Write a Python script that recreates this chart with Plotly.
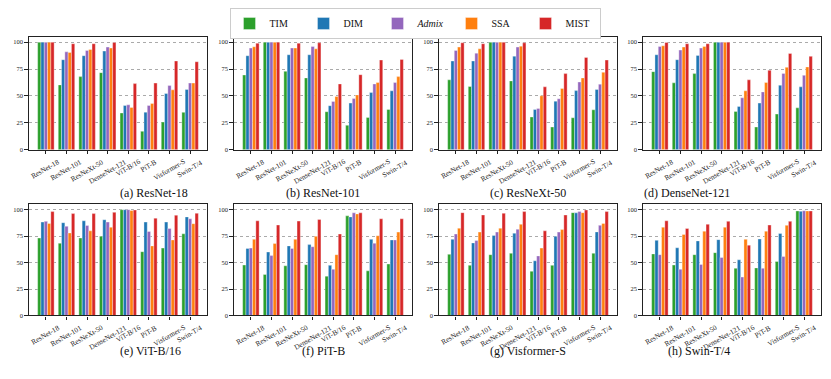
import plotly.graph_objects as go

# target models on the x axis of every panel
models = ["ResNet-18", "ResNet-101", "ResNeXt-50", "DenseNet-121",
          "ViT-B/16", "PiT-B", "Visformer-S", "Swin-T/4"]
methods = ["TIM", "DIM", "<i>Admix</i>", "SSA", "MIST"]
colors = ["#2ca02c", "#1f77b4", "#9467bd", "#ff7f0e", "#d62728"]

# attack success rate (%), rows: TIM, DIM, Admix, SSA, MIST
resnet18 = [
    [100, 60.3, 68.0, 71.7, 34.2, 17.2, 25.8, 34.8],
    [100, 83.7, 87.4, 91.7, 41.2, 35.0, 52.3, 56.0],
    [100, 91.0, 92.3, 95.4, 41.8, 41.2, 59.7, 62.0],
    [100, 90.5, 93.2, 94.5, 39.4, 43.0, 55.7, 62.0],
    [100, 98.5, 98.5, 99.7, 61.5, 62.0, 82.5, 81.8],
]
resnet101 = [
    [69.5, 100, 72.9, 66.8, 35.4, 22.8, 30.0, 37.5],
    [87.4, 100, 88.3, 88.3, 41.0, 43.4, 53.2, 54.8],
    [94.5, 100, 94.5, 96.0, 45.0, 47.7, 61.2, 62.5],
    [95.7, 100, 94.5, 93.8, 49.5, 51.0, 62.5, 68.0],
    [99.0, 100, 99.0, 99.4, 61.2, 69.8, 83.4, 84.0],
]
resnext50 = [
    [65.0, 58.8, 100, 64.0, 30.5, 21.2, 29.8, 37.2],
    [82.5, 82.5, 100, 87.0, 37.5, 45.2, 55.0, 56.0],
    [92.3, 89.8, 100, 95.4, 38.5, 47.4, 63.0, 61.0],
    [95.4, 93.8, 100, 96.3, 50.2, 57.0, 66.8, 72.0],
    [99.4, 98.5, 100, 99.4, 58.5, 70.8, 85.8, 83.4],
]
densenet121 = [
    [72.6, 62.2, 70.8, 100, 35.7, 21.2, 33.2, 39.0],
    [88.3, 83.7, 87.7, 100, 40.3, 43.4, 60.0, 58.5],
    [96.0, 92.6, 94.5, 100, 48.3, 53.8, 71.0, 69.2],
    [96.6, 95.4, 96.0, 100, 54.8, 62.5, 76.6, 77.0],
    [99.7, 98.5, 98.5, 100, 65.0, 73.8, 89.5, 86.8],
]
vit_b16 = [
    [73.2, 68.3, 73.2, 75.0, 100, 60.3, 63.7, 77.2],
    [88.3, 87.7, 89.5, 90.5, 100, 88.3, 88.3, 93.2],
    [89.0, 84.3, 85.0, 88.3, 100, 79.4, 82.2, 91.4],
    [87.0, 78.0, 80.0, 83.4, 99.2, 65.8, 71.4, 86.8],
    [98.2, 96.3, 96.3, 97.5, 99.7, 92.0, 94.8, 96.6],
]
pit_b = [
    [47.7, 38.8, 47.0, 48.0, 37.2, 94.2, 42.2, 48.6],
    [63.4, 60.0, 65.8, 67.0, 47.4, 93.2, 72.0, 71.4],
    [63.7, 56.6, 63.4, 65.0, 43.7, 97.0, 68.3, 71.4],
    [72.0, 68.0, 72.0, 74.8, 57.5, 96.0, 75.4, 78.8],
    [89.5, 85.5, 89.2, 90.8, 77.0, 97.0, 91.4, 91.4],
]
visformer_s = [
    [57.8, 47.4, 57.5, 58.8, 41.8, 47.4, 97.2, 58.8],
    [72.0, 68.6, 75.7, 77.8, 51.7, 74.8, 97.0, 79.0],
    [77.0, 70.8, 78.8, 81.5, 56.3, 78.8, 98.2, 85.2],
    [82.5, 78.8, 82.5, 86.2, 63.7, 81.2, 97.2, 87.0],
    [97.2, 95.0, 96.6, 98.2, 80.0, 95.0, 99.7, 98.2],
]
swin_t4 = [
    [58.2, 47.7, 57.5, 59.4, 44.6, 45.0, 51.0, 98.8],
    [71.0, 64.0, 70.5, 71.7, 52.6, 72.3, 77.5, 98.5],
    [57.5, 43.7, 48.3, 54.8, 36.3, 44.6, 55.7, 99.0],
    [83.4, 76.6, 79.7, 83.4, 72.0, 79.7, 85.2, 98.8],
    [89.5, 82.2, 86.2, 89.0, 66.5, 85.5, 89.0, 98.8],
]

panels = [resnet18, resnet101, resnext50, densenet121,
          vit_b16, pit_b, visformer_s, swin_t4]
captions = ["(a) ResNet-18", "(b) ResNet-101", "(c) ResNeXt-50", "(d) DenseNet-121",
            "(e) ViT-B/16", "(f) PiT-B", "(g) Visformer-S", "(h) Swin-T/4"]

# the page body adds an 8px margin, so the figure is drawn 8px smaller
OFF = 8
W, H = 831 - OFF, 379 - OFF
FONT = "Liberation Serif"

# panel boxes in window pixels
col_x = [(29, 207), (234, 412), (439, 617), (643, 821)]
row_y = [(37, 151), (206, 318)]
caption_y = [195, 363]


def px(v, size):
    return (v - OFF) / size


fig = go.Figure()
layout = {}

for i, data in enumerate(panels):
    r, c = divmod(i, 4)
    n = "" if i == 0 else str(i + 1)
    x0, x1 = col_x[c]
    y0, y1 = row_y[r]
    for k, vals in enumerate(data):
        fig.add_trace(go.Bar(
            x=models, y=vals, name=methods[k],
            marker=dict(color=colors[k], line=dict(color="rgba(255,255,255,0.7)", width=0.5)),
            xaxis="x" + n, yaxis="y" + n,
            legendgroup=methods[k], showlegend=(i == 0),
        ))
    layout["xaxis" + n] = dict(
        domain=[px(x0, W), px(x1, W)], anchor="y" + n,
        range=[-0.82, 7.82], showticklabels=False,
        ticks="outside", ticklen=3.5, tickcolor="#222",
        showline=True, linecolor="#222", linewidth=1.3, mirror=True,
        showgrid=False,
    )
    layout["yaxis" + n] = dict(
        domain=[1 - px(y1, H), 1 - px(y0, H)], anchor="x" + n,
        range=[0, 105], tickvals=[0, 25, 50, 75, 100],
        tickfont=dict(family=FONT, size=6.5, color="#222"),
        ticks="outside", ticklen=3.5, tickcolor="#222",
        showline=True, linecolor="#222", linewidth=1.3, mirror=True,
        showgrid=True, gridcolor="#aaaaaa", gridwidth=0.8, griddash="dot",
        zeroline=False,
    )
    # rotated category labels centred under each tick, like matplotlib
    for m in models:
        fig.add_annotation(
            text=m, xref="x" + n, yref="paper", x=m, y=1 - px(y1 + 7, H),
            xanchor="center", yanchor="top", textangle=-30, showarrow=False,
            borderpad=0, font=dict(family=FONT, size=7.2, color="#222"),
        )
    fig.add_annotation(
        text=captions[i], xref="paper", yref="paper",
        x=px((x0 + x1) / 2, W), y=1 - px(caption_y[r], H),
        showarrow=False, font=dict(family=FONT, size=12, color="#111"),
    )

fig.update_layout(
    **layout,
    width=W, height=H,
    margin=dict(l=0, r=0, t=0, b=0),
    plot_bgcolor="white", paper_bgcolor="white",
    barmode="group", bargap=0.2, bargroupgap=0,
    legend=dict(
        orientation="h", x=px(415, W), xanchor="center", y=1.0, yanchor="top",
        font=dict(family=FONT, size=10, color="#111"),
        bordercolor="#cccccc", borderwidth=1,
        entrywidth=29, entrywidthmode="pixels",
    ),
)

fig.write_html("out.html")
